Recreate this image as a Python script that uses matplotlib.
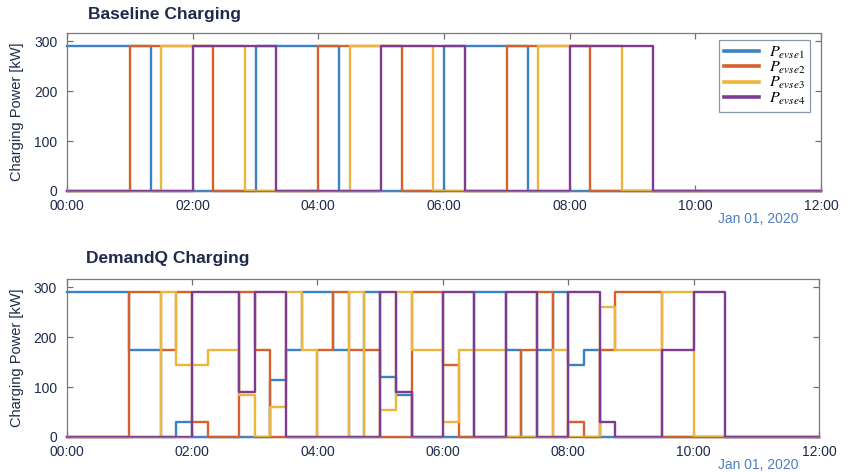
import pandas as pd
import matplotlib
matplotlib.use('Agg')
import matplotlib.pyplot as plt
import matplotlib.dates as mdates

plt.rcParams['font.family'] = ['Liberation Sans', 'DejaVu Sans']
plt.rcParams['mathtext.fontset'] = 'stix'

NAVY = '#1c2b4b'
COLORS = ['#3b82c4', '#d8602b', '#ecb63c', '#7e3b92']
LABELS = [r'$P_{evse1}$', r'$P_{evse2}$', r'$P_{evse3}$', r'$P_{evse4}$']

# baseline charging: breakpoints (hours) and power (kW), step-post
base_t = [
    [0, 1.33, 3.0, 4.33, 6.0, 7.33, 12],
    [0, 1.0, 2.33, 4.0, 5.33, 7.0, 8.33, 12],
    [0, 1.5, 2.83, 4.5, 5.83, 7.5, 8.83, 12],
    [0, 2.0, 3.33, 5.0, 6.33, 8.0, 9.33, 12],
]
base_p = [
    [290, 0, 290, 0, 290, 0, 0],
    [0, 290, 0, 290, 0, 290, 0, 0],
    [0, 290, 0, 290, 0, 290, 0, 0],
    [0, 290, 0, 290, 0, 290, 0, 0],
]

# demandq charging: shared breakpoints (hours)
dq_t = [0, 1, 1.5, 1.75, 2, 2.25, 2.75, 3, 3.25, 3.5, 3.75, 4, 4.25, 4.5, 4.75,
        5, 5.25, 5.5, 6, 6.25, 6.5, 7, 7.25, 7.5, 7.75, 8, 8.25, 8.5, 8.75,
        9.5, 10, 10.5, 12]
dq_evse1 = [290, 175, 0, 30, 0, 0, 0, 0, 115, 175, 290, 290, 175, 0, 290,
            120, 85, 0, 0, 0, 290, 175, 0, 175, 290, 145, 175, 0, 0,
            0, 0, 0, 0]
dq_evse2 = [0, 290, 175, 290, 30, 0, 290, 175, 0, 0, 0, 175, 290, 175, 175,
            0, 0, 290, 145, 0, 0, 0, 175, 290, 0, 30, 0, 175, 290,
            0, 0, 0, 0]
dq_evse3 = [0, 0, 290, 145, 145, 175, 85, 0, 60, 290, 175, 0, 0, 290, 0,
            55, 290, 175, 30, 175, 175, 0, 0, 0, 175, 0, 0, 260, 175,
            290, 0, 0, 0]
dq_evse4 = [0, 0, 0, 0, 290, 290, 90, 290, 290, 0, 0, 0, 0, 0, 0,
            290, 90, 0, 290, 290, 0, 290, 290, 0, 0, 290, 290, 30, 0,
            175, 290, 0, 0]

day = pd.Timestamp('2020-01-01')


def to_time(hours):
    return day + pd.to_timedelta(hours, unit='h')


def style_axes(ax):
    ax.set_xlim(to_time([0])[0], to_time([12])[0])
    ax.set_ylim(0, 317)
    ax.set_yticks([0, 100, 200, 300])
    ax.xaxis.set_major_locator(mdates.HourLocator(interval=2))
    ax.xaxis.set_major_formatter(mdates.DateFormatter('%H:%M'))
    ax.tick_params(direction='in', top=True, right=True, length=4.5,
                   width=0.9, color='#707070', labelcolor=NAVY, labelsize=10)
    ax.tick_params(axis='x', pad=6)
    ax.tick_params(axis='y', pad=7)
    for s in ax.spines.values():
        s.set_color('#7a7a7a')
        s.set_linewidth(0.9)
    ax.set_ylabel('Charging Power [kW]', fontsize=10.5, color=NAVY, labelpad=7)


fig = plt.figure(figsize=(8.48, 4.72), dpi=100)
ax1 = fig.add_axes([67 / 848, 1 - 191 / 472, 754 / 848, 158 / 472])
ax2 = fig.add_axes([66.7 / 848, 1 - 437 / 472, 752.3 / 848, 158 / 472])

for t, p, c, lab in zip(base_t, base_p, COLORS, LABELS):
    ax1.step(to_time(t), p, where='post', color=c, lw=1.7, label=lab,
             clip_on=False)

for p, c in zip([dq_evse1, dq_evse2, dq_evse3, dq_evse4], COLORS):
    ax2.step(to_time(dq_t), p, where='post', color=c, lw=1.7, clip_on=False)

style_axes(ax1)
style_axes(ax2)

leg = ax1.legend(loc='upper right', bbox_to_anchor=(0.985, 0.956),
                 borderaxespad=0, fontsize=11.5, handlelength=2.2,
                 labelspacing=-0.05, borderpad=0.3, handletextpad=0.6,
                 fancybox=False, framealpha=1)
leg.get_frame().set_edgecolor('#8a96aa')
leg.get_frame().set_linewidth(0.9)
for line in leg.get_lines():
    line.set_linewidth(2.6)

fig.text(88 / 848, 1 - 15 / 472, 'Baseline Charging', fontsize=12.5,
         fontweight='bold', color=NAVY, ha='left', va='center')
fig.text(86 / 848, 1 - 259 / 472, 'DemandQ Charging', fontsize=12.5,
         fontweight='bold', color=NAVY, ha='left', va='center')
fig.text(799 / 848, 1 - 219 / 472, 'Jan 01, 2020', fontsize=10,
         color='#4f7fc0', ha='right', va='center')
fig.text(799 / 848, 1 - 465 / 472, 'Jan 01, 2020', fontsize=10,
         color='#4f7fc0', ha='right', va='center')

fig.savefig('out.png', dpi=100)
